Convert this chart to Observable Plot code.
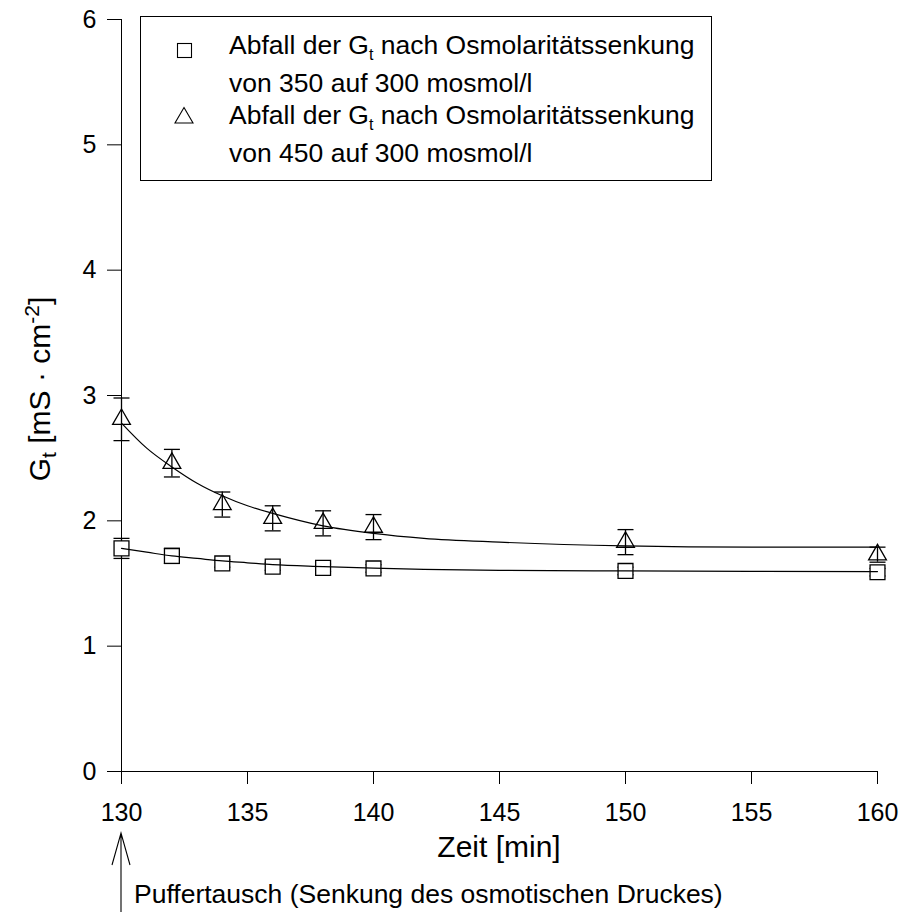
<!DOCTYPE html>
<html>
<head>
<meta charset="utf-8">
<script src="https://cdn.jsdelivr.net/npm/d3@7"></script>
<script src="https://cdn.jsdelivr.net/npm/@observablehq/plot@0.6"></script>
<style>
  html, body { margin: 0; padding: 0; background: #fff; }
  #chart svg { display: block; }
</style>
</head>
<body>
<div id="chart"></div>
<script>
// ---- data ----
const times = [130, 132, 134, 136, 138, 140, 150, 160];
const sqMean = [1.78, 1.72, 1.66, 1.635, 1.625, 1.62, 1.60, 1.59];
const sqErr  = [0.08, 0.06, 0.03, 0.03, 0.03, 0.03, 0.03, 0.03];
const triMean = [2.81, 2.46, 2.13, 2.02, 1.98, 1.95, 1.83, 1.73];
const triErr  = [0.17, 0.11, 0.10, 0.10, 0.10, 0.10, 0.10, 0.06];

// fitted curves, read at these times
const fitTimes = [130, 131, 132, 133, 134, 135, 136, 138, 140, 142, 145, 150, 155, 160];
const sqFit  = [1.78, 1.75, 1.72, 1.70, 1.68, 1.665, 1.65, 1.635, 1.622, 1.613, 1.605, 1.60, 1.597, 1.595];
const triFit = [2.78, 2.58, 2.43, 2.30, 2.20, 2.12, 2.06, 1.96, 1.90, 1.86, 1.83, 1.80, 1.79, 1.79];

const xTicks = [130, 135, 140, 145, 150, 155, 160];
const yTicks = [0, 1, 2, 3, 4, 5, 6];

const legendLines = [
  ["Abfall der G", "t", " nach Osmolaritätssenkung"],
  ["von 350 auf 300 mosmol/l"],
  ["Abfall der G", "t", " nach Osmolaritätssenkung"],
  ["von 450 auf 300 mosmol/l"]
];
const xLabel = "Zeit [min]";
const annotationTime = 130;
const annotationText = "Puffertausch (Senkung des osmotischen Druckes)";

// ---- tables ----
const sqPoints = times.map((t, i) => ({t, v: sqMean[i], e: sqErr[i]}));
const triPoints = times.map((t, i) => ({t, v: triMean[i], e: triErr[i]}));
const fits = [
  ...fitTimes.map((t, i) => ({t, v: sqFit[i], s: "350"})),
  ...fitTimes.map((t, i) => ({t, v: triFit[i], s: "450"}))
];
const capsOf = pts => pts.flatMap(d => [{t: d.t, v: d.v + d.e}, {t: d.t, v: d.v - d.e}]);

const capSymbol = {
  draw(ctx, size) {
    const w = Math.sqrt(size / Math.PI);
    ctx.moveTo(-w, 0); ctx.lineTo(w, 0);
  }
};
const errMarks = pts => [
  Plot.ruleX(pts, {x: "t", y1: d => d.v - d.e, y2: d => d.v + d.e, stroke: "black", strokeWidth: 1.3}),
  Plot.dot(capsOf(pts), {x: "t", y: "v", symbol: capSymbol, r: 8, stroke: "black", strokeWidth: 1.3, fill: "none"})
];

const FONT = "'Liberation Sans', Arial, Helvetica, sans-serif";

const svg = Plot.plot({
  width: 902,
  height: 912,
  marginLeft: 121,
  marginRight: 25,
  marginTop: 19,
  marginBottom: 141,
  style: {fontFamily: FONT, fontSize: "25px", color: "black", background: "white", overflow: "visible"},
  x: {domain: [130, 160], ticks: xTicks},
  y: {domain: [0, 6], ticks: yTicks},
  marks: [
    Plot.axisX({ticks: xTicks, tickSize: 13, tickPadding: 19, label: null, fontSize: 25, tickFormat: d => String(d)}),
    Plot.axisY({ticks: yTicks, tickSize: 14, tickPadding: 11, label: null, fontSize: 25, tickFormat: d => String(d)}),
    Plot.ruleX([130], {stroke: "black", strokeWidth: 1}),
    Plot.ruleY([0], {stroke: "black", strokeWidth: 1}),
    ...errMarks(sqPoints),
    Plot.dot(sqPoints, {x: "t", y: "v", symbol: "square", r: 8.4, stroke: "black", strokeWidth: 1.3, fill: "white"}),
    ...errMarks(triPoints),
    Plot.dot(triPoints, {x: "t", y: "v", symbol: "triangle", r: 6.6, stroke: "black", strokeWidth: 1.3, fill: "none"}),
    Plot.line(fits, {x: "t", y: "v", z: "s", curve: "monotone-x", stroke: "black", strokeWidth: 1.2})
  ]
});

const chart = document.getElementById("chart");
chart.appendChild(svg);

const s = d3.select(svg);
const xs = svg.scale("x");

// y axis title with subscript & superscript
const yl = s.append("text")
  .attr("transform", "translate(50,389) rotate(-90)")
  .attr("text-anchor", "middle")
  .attr("font-family", FONT)
  .attr("font-size", 30)
  .attr("fill", "black");
yl.append("tspan").text("G");
yl.append("tspan").attr("font-size", 21).attr("dy", 6).text("t");
yl.append("tspan").attr("dy", -6).text(" [mS · cm");
yl.append("tspan").attr("font-size", 21).attr("dy", -11).text("-2");
yl.append("tspan").attr("dy", 11).text("]");

// x axis title
s.append("text")
  .attr("x", (xs.apply(130) + xs.apply(160)) / 2)
  .attr("y", 857)
  .attr("text-anchor", "middle")
  .attr("font-family", FONT)
  .attr("font-size", 30)
  .attr("fill", "black")
  .text(xLabel);

// annotation arrow
const ax = xs.apply(annotationTime);
s.append("path")
  .attr("d", `M${ax},912V833M${ax - 9},865L${ax},833L${ax + 9},865`)
  .attr("fill", "none").attr("stroke", "black").attr("stroke-width", 1.1);
s.append("text")
  .attr("x", ax + 13).attr("y", 903)
  .attr("text-anchor", "start")
  .attr("font-family", FONT).attr("font-size", 26.5).attr("fill", "black")
  .text(annotationText);

// legend
const lg = s.append("g");
lg.append("rect").attr("x", 140.5).attr("y", 16.5).attr("width", 571).attr("height", 164)
  .attr("fill", "white").attr("stroke", "black").attr("stroke-width", 1);
lg.append("rect").attr("x", 177.5).attr("y", 43.5).attr("width", 14).attr("height", 14)
  .attr("fill", "none").attr("stroke", "black").attr("stroke-width", 1.1);
lg.append("path").attr("d", "M184,107.5L193,123L175,123Z")
  .attr("fill", "none").attr("stroke", "black").attr("stroke-width", 1.1);
const baselines = [54, 92, 124, 162];
legendLines.forEach((parts, i) => {
  const t = lg.append("text").attr("x", 229).attr("y", baselines[i])
    .attr("text-anchor", "start")
    .attr("font-family", FONT).attr("font-size", 26.5).attr("fill", "black");
  if (parts.length === 1) {
    t.text(parts[0]);
  } else {
    t.append("tspan").text(parts[0]);
    t.append("tspan").attr("font-size", 16).attr("dy", 6).text(parts[1]);
    t.append("tspan").attr("dy", -6).text(parts[2]);
  }
});
</script>
</body>
</html>
